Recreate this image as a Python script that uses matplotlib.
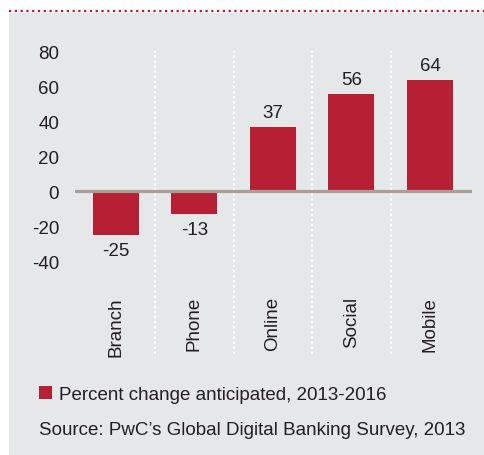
import matplotlib
matplotlib.use("Agg")
import matplotlib.pyplot as plt
from matplotlib.patches import Rectangle
from matplotlib.lines import Line2D

categories = ["Branch", "Phone", "Online", "Social", "Mobile"]
values = [-25, -13, 37, 56, 64]
yticks = [-40, -20, 0, 20, 40, 60, 80]
legend_label = "Percent change anticipated, 2013-2016"
source_text = "Source: PwC\u2019s Global Digital Banking Survey, 2013"

W, H = 484, 456
BAR = "#B71F34"
BG = "#E6E7E9"
TXT = "#231F20"
FS = 13.5

plt.rcParams['font.family'] = ['Liberation Sans', 'DejaVu Sans']

fig = plt.figure(figsize=(W / 100, H / 100), dpi=100)
fig.patch.set_facecolor("white")

# grey panel
fig.add_artist(Rectangle((9 / W, 0), 1 - 9 / W, (H - 14) / H, transform=fig.transFigure,
                         facecolor=BG, edgecolor="none", zorder=0))
# red dotted rule
fig.add_artist(Line2D([9 / W, 1], [1 - 12 / H, 1 - 12 / H], transform=fig.transFigure,
                      color="#C8102E", lw=1.6, dashes=(1, 1.6), dash_capstyle="butt"))

ax = fig.add_axes([75 / W, (H - 355) / H, 397 / W, (355 - 52) / H])
ax.set_facecolor("none")
ax.set_xlim(-0.522, 4.535)
ax.set_ylim(-92.9, 80.3)

x = list(range(len(categories)))
ax.bar(x, values, width=0.586, color=BAR, zorder=2)
ax.axhline(0, color="#A89F97", lw=2.3, zorder=3)

for sep in [0.5, 1.5, 2.5, 3.5]:
    ax.axvline(sep, color="white", lw=1.6, dashes=(1, 1.3), zorder=1)

for xi, v in zip(x, values):
    if v >= 0:
        ax.annotate(str(v), (xi, v), xytext=(0, 4), textcoords="offset points",
                    ha="center", va="bottom", fontsize=FS, color=TXT)
    else:
        ax.annotate(str(v), (xi, v), xytext=(0, -5), textcoords="offset points",
                    ha="center", va="top", fontsize=FS, color=TXT)

for xi, c in zip(x, categories):
    ax.text(xi, -59.7, c, rotation=90, ha="center", va="top", fontsize=FS, color=TXT)

ax.set_xticks([])
ax.set_yticks(yticks)
ax.set_yticklabels([str(t) for t in yticks], fontsize=FS, color=TXT)
ax.tick_params(axis="y", length=0, pad=11.5)
for s in ax.spines.values():
    s.set_visible(False)

# legend
fig.add_artist(Rectangle((39 / W, (H - 400) / H), 13 / W, 13 / H, transform=fig.transFigure,
                         facecolor=BAR, edgecolor="none"))
fig.text(59 / W, (H - 400) / H, legend_label, fontsize=FS, color=TXT, ha="left", va="baseline")
fig.text(39 / W, (H - 435) / H, source_text, fontsize=FS, color=TXT, ha="left", va="baseline")

fig.savefig("out.png", dpi=100, facecolor=fig.get_facecolor())
